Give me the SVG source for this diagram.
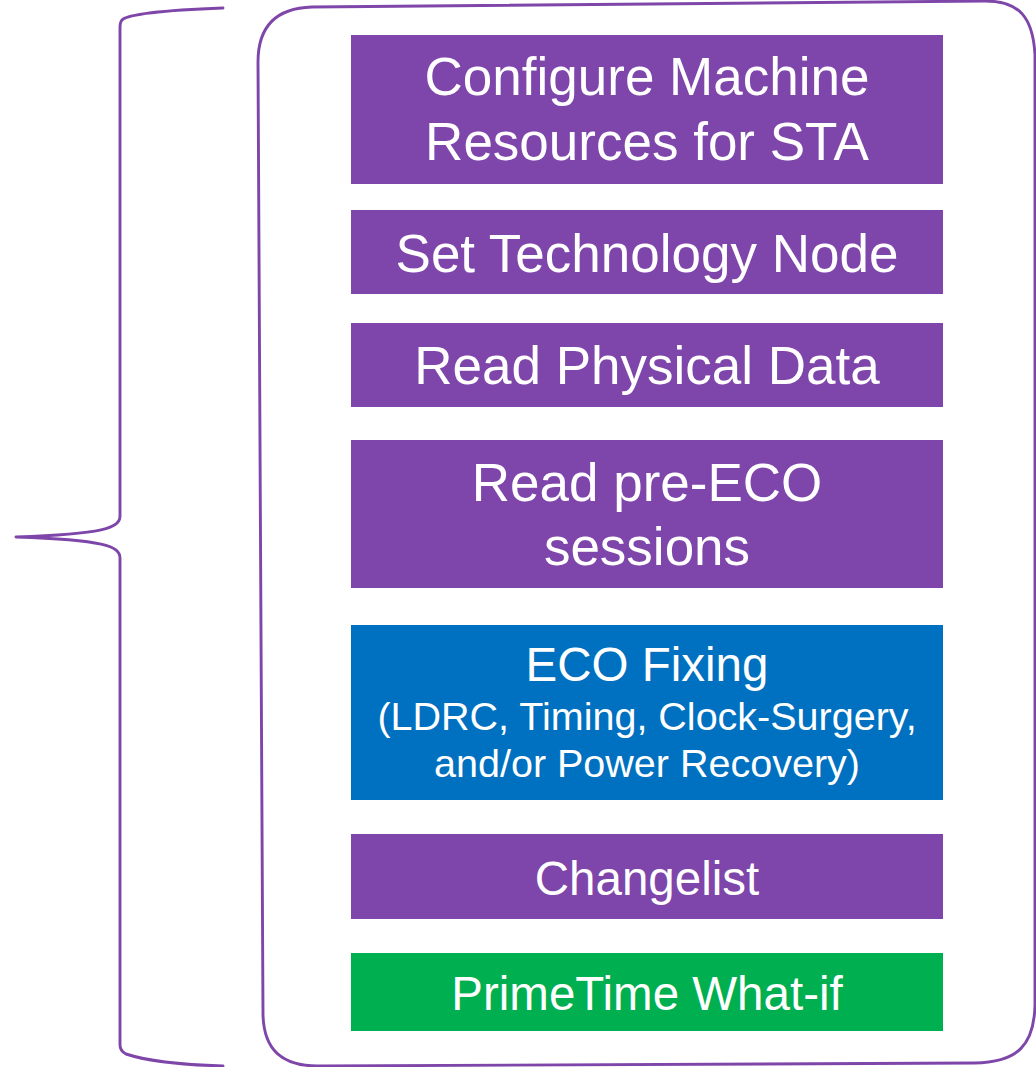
<svg xmlns="http://www.w3.org/2000/svg" width="1036" height="1067" viewBox="0 0 1036 1067">
  <style>
    .outline { fill: none; stroke: #7F46AA; stroke-width: 2.9; stroke-linecap: round; stroke-linejoin: round; }
    .step { stroke: none; }
    .purple { fill: #7E45AA; }
    .blue { fill: #0070C0; }
    .green { fill: #00AF50; }
    .label { fill: #FFFFFF; font-family: "Liberation Sans", Arial, sans-serif; text-anchor: middle; }
    .big { font-size: 53px; }
    .mid { font-size: 47.5px; }
    .small { font-size: 39.5px; }
  </style>

  <!-- curly brace on the left -->
  <g id="brace">
    <path class="outline" d="M 223 8 C 170 10 128 14 122 20 C 120 22 120 24 120 28 L 120 516 C 120 528 104 534 16 537 C 104 540 120 546 120 558 L 120 1045 C 120 1050 122 1052 126 1054 C 150 1062 190 1065 223 1066"/>
  </g>

  <!-- rounded frame around the steps -->
  <g id="frame">
    <path class="outline" d="M 312 7 L 985 1 C 1020 1 1033 18 1035 55 L 1035 1005 C 1034 1045 1018 1062 975 1063 L 318 1066 C 282 1066 264 1050 263 1015 L 258 62 C 258 25 278 8 312 7 Z"/>
  </g>

  <!-- process steps -->
  <g id="step-configure">
    <rect class="step purple" x="351" y="35" width="592" height="149"/>
    <text class="label big" x="647" y="95">Configure Machine</text>
    <text class="label big" x="647" y="160">Resources for STA</text>
  </g>

  <g id="step-technology">
    <rect class="step purple" x="351" y="210" width="592" height="84"/>
    <text class="label big" x="647" y="272">Set Technology Node</text>
  </g>

  <g id="step-physical">
    <rect class="step purple" x="351" y="323" width="592" height="84"/>
    <text class="label big" x="647" y="384">Read Physical Data</text>
  </g>

  <g id="step-sessions">
    <rect class="step purple" x="351" y="440" width="592" height="148"/>
    <text class="label big" x="647" y="501">Read pre-ECO</text>
    <text class="label big" x="647" y="565">sessions</text>
  </g>

  <g id="step-eco">
    <rect class="step blue" x="351" y="625" width="592" height="175"/>
    <text class="label mid" x="647" y="681">ECO Fixing</text>
    <text class="label small" x="647" y="730">(LDRC, Timing, Clock-Surgery,</text>
    <text class="label small" x="647" y="777">and/or Power Recovery)</text>
  </g>

  <g id="step-changelist">
    <rect class="step purple" x="351" y="834" width="592" height="85"/>
    <text class="label mid" x="647" y="895">Changelist</text>
  </g>

  <g id="step-whatif">
    <rect class="step green" x="351" y="953" width="592" height="78"/>
    <text class="label mid" x="647" y="1010">PrimeTime What-if</text>
  </g>

  <!-- no connectors between the steps -->
  <g id="connectors"/>
</svg>
